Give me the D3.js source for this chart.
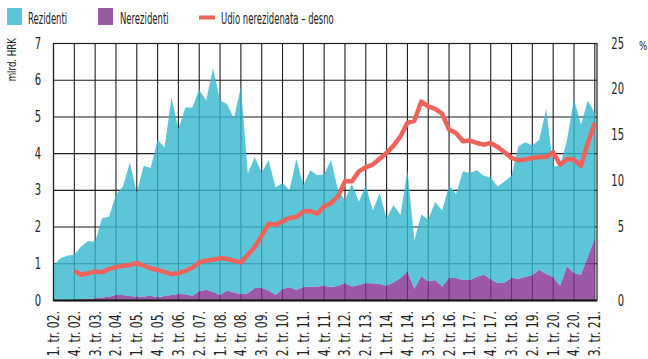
<!DOCTYPE html>
<html>
<head>
<meta charset="utf-8">
<script src="https://cdn.jsdelivr.net/npm/d3@7"></script>
<style>
  html, body { margin: 0; padding: 0; background: #fff; }
  svg { display: block; }
  text { font-family: "Liberation Sans Narrow", "DejaVu Sans Condensed", "Arial Narrow", sans-serif; fill: #222; }
</style>
</head>
<body>
<svg id="chart" width="648" height="359"></svg>
<script>
// Quarterly categories, 1st quarter 2002 to 3rd quarter 2021
const quarters = [
  "1. tr. 02.","2. tr. 02.","3. tr. 02.","4. tr. 02.",
  "1. tr. 03.","2. tr. 03.","3. tr. 03.","4. tr. 03.",
  "1. tr. 04.","2. tr. 04.","3. tr. 04.","4. tr. 04.",
  "1. tr. 05.","2. tr. 05.","3. tr. 05.","4. tr. 05.",
  "1. tr. 06.","2. tr. 06.","3. tr. 06.","4. tr. 06.",
  "1. tr. 07.","2. tr. 07.","3. tr. 07.","4. tr. 07.",
  "1. tr. 08.","2. tr. 08.","3. tr. 08.","4. tr. 08.",
  "1. tr. 09.","2. tr. 09.","3. tr. 09.","4. tr. 09.",
  "1. tr. 10.","2. tr. 10.","3. tr. 10.","4. tr. 10.",
  "1. tr. 11.","2. tr. 11.","3. tr. 11.","4. tr. 11.",
  "1. tr. 12.","2. tr. 12.","3. tr. 12.","4. tr. 12.",
  "1. tr. 13.","2. tr. 13.","3. tr. 13.","4. tr. 13.",
  "1. tr. 14.","2. tr. 14.","3. tr. 14.","4. tr. 14.",
  "1. tr. 15.","2. tr. 15.","3. tr. 15.","4. tr. 15.",
  "1. tr. 16.","2. tr. 16.","3. tr. 16.","4. tr. 16.",
  "1. tr. 17.","2. tr. 17.","3. tr. 17.","4. tr. 17.",
  "1. tr. 18.","2. tr. 18.","3. tr. 18.","4. tr. 18.",
  "1. tr. 19.","2. tr. 19.","3. tr. 19.","4. tr. 19.",
  "1. tr. 20.","2. tr. 20.","3. tr. 20.","4. tr. 20.",
  "1. tr. 21.","2. tr. 21.","3. tr. 21."
];

// Residents, billion HRK
const rezidenti = [
  0.93,1.13,1.19,1.22,1.43,1.57,1.54,2.17,2.18,2.73,
  2.95,3.64,2.83,3.56,3.48,4.29,4.05,5.38,4.50,5.09,
  5.13,5.49,5.16,6.10,5.30,5.08,4.74,5.65,3.26,3.56,
  3.14,3.56,2.93,2.89,2.65,3.56,2.78,3.17,3.03,3.04,
  3.47,2.60,2.27,2.79,2.27,2.67,1.98,2.47,1.84,2.11,
  1.72,2.76,1.32,1.67,1.68,2.12,2.07,2.52,2.29,2.96,
  2.91,2.90,2.70,2.77,2.63,2.76,2.78,3.61,3.66,3.53,
  3.54,4.50,3.01,3.27,3.45,4.74,4.09,4.25,3.41
];

// Non-residents, billion HRK
const nerezidenti = [
  0.02,0.02,0.03,0.03,0.04,0.05,0.06,0.08,0.10,0.15,
  0.15,0.12,0.10,0.11,0.13,0.09,0.12,0.15,0.18,0.17,
  0.13,0.25,0.29,0.23,0.15,0.27,0.22,0.17,0.20,0.34,
  0.34,0.27,0.15,0.31,0.36,0.29,0.36,0.38,0.38,0.40,
  0.36,0.40,0.47,0.38,0.42,0.47,0.47,0.45,0.40,0.49,
  0.61,0.79,0.32,0.67,0.52,0.56,0.38,0.61,0.61,0.56,
  0.56,0.65,0.70,0.58,0.47,0.49,0.62,0.59,0.65,0.69,
  0.84,0.72,0.64,0.40,0.93,0.75,0.70,1.20,1.69
];

// Share of non-residents, % (right axis); series begins in 4th quarter 2002
const udio = [
  null,null,null,2.02,1.75,1.86,1.98,1.93,2.14,2.27,
  2.36,2.41,2.55,2.38,2.18,2.09,1.93,1.80,1.86,2.02,
  2.23,2.59,2.73,2.77,2.89,2.82,2.72,2.59,3.11,3.64,
  4.41,5.36,5.25,5.62,5.98,6.09,6.71,6.75,6.45,7.27,
  7.62,8.35,9.98,9.98,11.07,11.51,11.80,12.45,13.07,13.87,
  14.89,16.35,16.58,18.67,18.16,17.87,17.36,15.62,15.25,14.35,
  14.42,14.16,13.98,14.16,13.73,13.15,12.53,12.27,12.35,12.53,
  12.64,12.64,13.15,11.80,12.42,12.35,11.69,14.16,16.35
];

const leftTicks = [0, 1, 2, 3, 4, 5, 6, 7];
const rightTicks = [0, 5, 10, 15, 20, 25];
const tickQuarters = quarters.filter((d, i) => i % 3 === 0);

const colors = { rez: "#5cc6d8", nerez: "#9b59a6", udio: "#ef625a" };

const svg = d3.select("#chart");
const plot = { left: 53.5, right: 597, top: 43.5, bottom: 300.5 };

const x = d3.scalePoint().domain(quarters).range([plot.left, 594.8]);
const y = d3.scaleLinear().domain([0, 7]).range([plot.bottom, plot.top]);
// right axis: 5–25 % aligned with 2–7 on the left axis, 0 at the baseline
const yR = d3.scaleLinear().domain([0, 5, 25]).range([y(0), y(2), y(7)]);

// condensed text helper
function label(parent, tx, ty, str, o = {}) {
  const sx = o.sx ?? 0.74;
  const rot = o.rotate ? ` rotate(${o.rotate})` : "";
  return parent.append("text")
    .attr("transform", `translate(${tx},${ty})${rot} scale(${sx},1)`)
    .attr("font-size", o.size ?? 15)
    .attr("text-anchor", o.anchor ?? "start")
    .text(str);
}

// grid
const grid = svg.append("g").attr("stroke", "#1e1e1e").attr("stroke-width", 1.1);
grid.selectAll("line.h").data(leftTicks).join("line")
  .attr("x1", plot.left).attr("x2", plot.right)
  .attr("y1", d => y(d)).attr("y2", d => y(d));
grid.selectAll("line.v").data(tickQuarters).join("line")
  .attr("x1", d => x(d)).attr("x2", d => x(d))
  .attr("y1", plot.top).attr("y2", plot.bottom);

// stacked areas
const rows = quarters.map((q, i) => ({ q, rez: rezidenti[i], nerez: nerezidenti[i] }));
const stack = d3.stack().keys(["nerez", "rez"])(rows);
const area = d3.area()
  .x(d => x(d.data.q))
  .y0(d => y(d[0]))
  .y1(d => y(d[1]));
const fills = { rez: "#33b8ce", nerez: "#822f90" };
svg.append("g").selectAll("path").data(stack).join("path")
  .attr("d", area)
  .attr("fill", d => fills[d.key])
  .attr("fill-opacity", 0.8);

// frame
svg.append("rect")
  .attr("x", plot.left).attr("y", plot.top)
  .attr("width", plot.right - plot.left).attr("height", plot.bottom - plot.top)
  .attr("fill", "none").attr("stroke", "#1e1e1e").attr("stroke-width", 1.2);
svg.append("line")
  .attr("x1", plot.left).attr("x2", plot.right)
  .attr("y1", plot.bottom).attr("y2", plot.bottom)
  .attr("stroke", "#111").attr("stroke-width", 2);

// share line
const line = d3.line()
  .defined(d => d.v != null)
  .x(d => x(d.q))
  .y(d => yR(d.v));
svg.append("path")
  .datum(quarters.map((q, i) => ({ q, v: udio[i] })))
  .attr("d", line)
  .attr("fill", "none")
  .attr("stroke", colors.udio)
  .attr("stroke-width", 4.5)
  .attr("stroke-linejoin", "round");

// left axis labels
const axL = svg.append("g");
leftTicks.forEach(t => label(axL, 41, y(t) + 5, String(t), { anchor: "end" }));
label(axL, 16, 38, "mlrd. HRK", { rotate: -90, anchor: "end", size: 12, sx: 0.8 });

// right axis labels
const axR = svg.append("g");
rightTicks.forEach(t => label(axR, 624, yR(t) + 5, String(t), { anchor: "end" }));
label(axR, 639, 50, "%", { size: 12, sx: 0.8 });

// x axis labels
const axX = svg.append("g");
tickQuarters.forEach(q => label(axX, x(q) + 5.5, 311, q, { rotate: -90, anchor: "end", size: 15, sx: 0.8 }));

// legend
const lg = svg.append("g");
lg.append("rect").attr("x", 7).attr("y", 8).attr("width", 15).attr("height", 17).attr("fill", colors.rez);
label(lg, 28, 24, "Rezidenti", { sx: 0.63 });
lg.append("rect").attr("x", 98).attr("y", 8).attr("width", 15).attr("height", 17).attr("fill", colors.nerez);
label(lg, 120, 24, "Nerezidenti", { sx: 0.63 });
lg.append("line").attr("x1", 199).attr("x2", 215).attr("y1", 17.5).attr("y2", 17.5)
  .attr("stroke", colors.udio).attr("stroke-width", 4);
label(lg, 221, 24, "Udio nerezidenata – desno", { sx: 0.63 });
</script>
</body>
</html>
